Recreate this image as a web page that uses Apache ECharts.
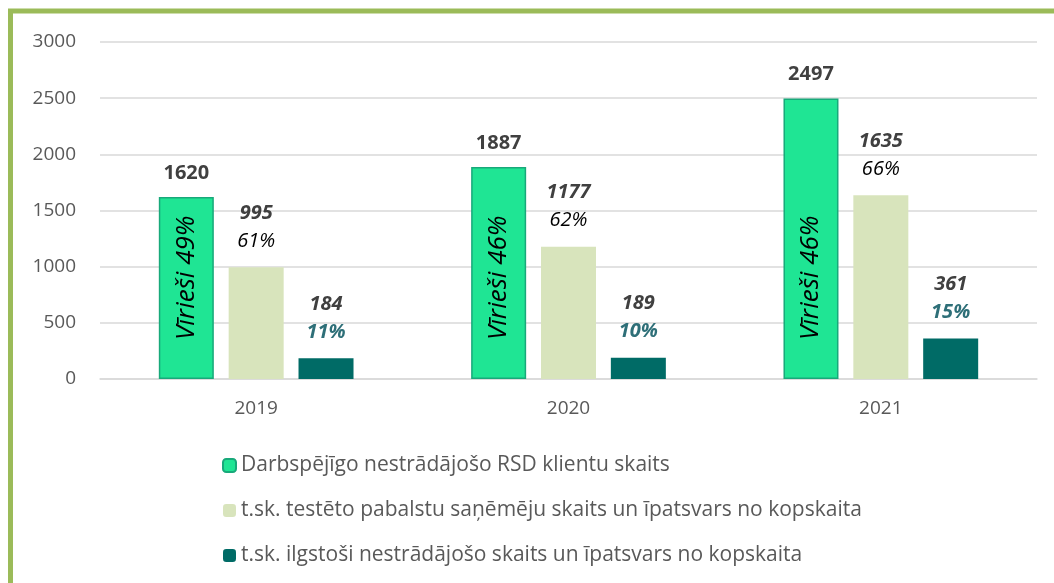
<!DOCTYPE html>
<html>
<head>
<meta charset="utf-8">
<script src="https://cdn.jsdelivr.net/npm/echarts@6/dist/echarts.min.js"></script>
<style>
  html, body { margin: 0; padding: 0; background: #fff; }
  #chart { width: 1054px; height: 583px; }
</style>
</head>
<body>
<div id="chart"></div>
<script>
  var years = ['2019', '2020', '2021'];
  var seriesNames = [
    'Darbspējīgo nestrādājošo RSD klientu skaits',
    't.sk. testēto pabalstu saņēmēju skaits un īpatsvars no kopskaita',
    't.sk. ilgstoši nestrādājošo skaits un īpatsvars no kopskaita'
  ];
  var totalClients = [1620, 1887, 2497];
  var menPct = [49, 46, 46];
  var testedCount = [995, 1177, 1635];
  var testedPct = [61, 62, 66];
  var longTermCount = [184, 189, 361];
  var longTermPct = [11, 10, 15];
  var yTicks = [0, 500, 1000, 1500, 2000, 2500, 3000];

  var font = '"Open Sans", "Noto Sans", sans-serif';
  var chart = echarts.init(document.getElementById('chart'));

  var option = {
    animation: false,
    textStyle: { fontFamily: font },
    graphic: [{
      type: 'rect',
      shape: { x: 10.5, y: 11, width: 1200, height: 800 },
      style: { fill: 'none', stroke: '#9BBB59', lineWidth: 5 }
    }],
    grid: { left: 100, right: 17, top: 42, bottom: 204 },
    legend: {
      data: seriesNames,
      orient: 'vertical',
      left: 217,
      top: 450,
      itemGap: 24,
      itemWidth: 13,
      itemHeight: 13,
      textStyle: { fontFamily: font, fontSize: 21, color: '#595959' }
    },
    xAxis: {
      type: 'category',
      data: years,
      axisTick: { show: false },
      axisLine: { lineStyle: { color: '#D9D9D9', width: 1.5 } },
      axisLabel: { fontFamily: font, fontSize: 19, color: '#595959', margin: 20 }
    },
    yAxis: {
      type: 'value',
      min: yTicks[0],
      max: yTicks[yTicks.length - 1],
      interval: 500,
      axisLabel: {
        fontFamily: font, fontSize: 19, color: '#595959', margin: 24,
        formatter: function (v) { return String(v); }
      },
      splitLine: { lineStyle: { color: '#D9D9D9', width: 1.5 } }
    },
    series: [
      {
        name: seriesNames[0],
        type: 'bar',
        stack: 'total',
        barWidth: 55,
        barGap: '27%',
        data: totalClients,
        itemStyle: { color: '#1FE594', borderColor: '#18A97A', borderWidth: 1.5 },
        label: {
          show: true,
          position: 'insideBottom',
          distance: 39,
          rotate: 90,
          align: 'left',
          verticalAlign: 'middle',
          fontFamily: font,
          fontSize: 26,
          fontStyle: 'italic',
          color: '#000',
          formatter: function (p) { return 'Vīrieši ' + menPct[p.dataIndex] + '%'; }
        }
      },
      {
        name: 'top',
        type: 'bar',
        stack: 'total',
        barWidth: 55,
        data: totalClients.map(function () { return 0; }),
        itemStyle: { color: 'transparent' },
        label: {
          show: true,
          position: 'top',
          distance: 14,
          fontFamily: font,
          fontSize: 20,
          fontWeight: 'bold',
          color: '#404040',
          formatter: function (p) { return String(totalClients[p.dataIndex]); }
        }
      },
      {
        name: seriesNames[1],
        type: 'bar',
        barWidth: 55,
        data: testedCount,
        itemStyle: { color: '#D8E4BC' },
        label: {
          show: true,
          position: 'top',
          distance: 12,
          formatter: function (p) {
            return '{a|' + testedCount[p.dataIndex] + '}\n{b|' + testedPct[p.dataIndex] + '%}';
          },
          rich: {
            a: { fontSize: 20, fontWeight: 'bold', fontStyle: 'italic', color: '#404040', lineHeight: 28, fontFamily: font },
            b: { fontSize: 20, fontStyle: 'italic', color: '#000', lineHeight: 28, fontFamily: font }
          }
        }
      },
      {
        name: seriesNames[2],
        type: 'bar',
        barWidth: 55,
        data: longTermCount,
        itemStyle: { color: '#006B66' },
        label: {
          show: true,
          position: 'top',
          distance: 12,
          formatter: function (p) {
            return '{a|' + longTermCount[p.dataIndex] + '}\n{b|' + longTermPct[p.dataIndex] + '%}';
          },
          rich: {
            a: { fontSize: 20, fontWeight: 'bold', fontStyle: 'italic', color: '#404040', lineHeight: 28, fontFamily: font },
            b: { fontSize: 20, fontWeight: 'bold', fontStyle: 'italic', color: '#2E6F78', lineHeight: 28, fontFamily: font }
          }
        }
      }
    ]
  };

  chart.setOption(option);
</script>
</body>
</html>
